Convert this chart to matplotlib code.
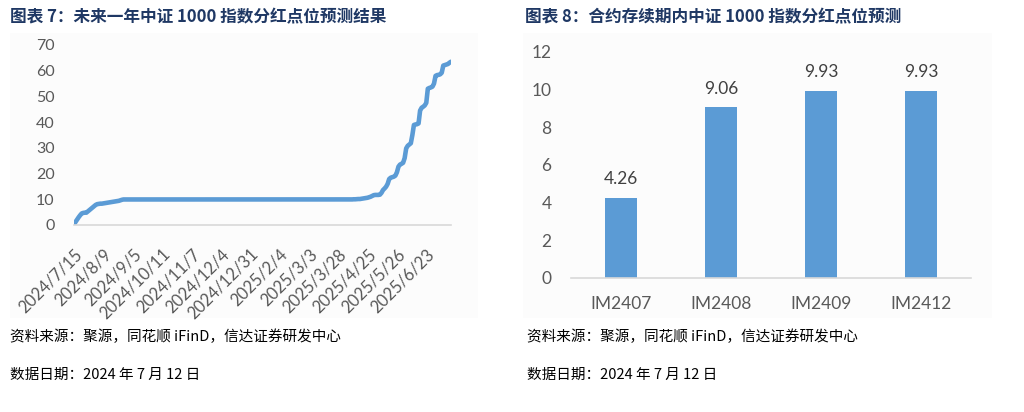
import matplotlib.pyplot as plt
from matplotlib.patches import Rectangle

plt.rcParams['font.family'] = ['Lato', 'Noto Sans CJK SC', 'DejaVu Sans']

# 图表7：未来一年中证1000指数分红点位（按交易日）
tick_labels = ["2024/7/15", "2024/8/9", "2024/9/5", "2024/10/11", "2024/11/7",
               "2024/12/4", "2024/12/31", "2025/2/4", "2025/3/3", "2025/3/28",
               "2025/4/25", "2025/5/26", "2025/6/23"]
tick_step = 19

rise_start = [0.3, 1.2, 2.1, 3.0, 3.8, 4.5, 4.7, 4.8, 4.8, 5.3,
              5.8, 6.3, 6.8, 7.3, 7.8, 8.1, 8.2, 8.3, 8.3, 8.4,
              8.5, 8.6, 8.7, 8.8, 8.9, 9.0, 9.1, 9.2, 9.3, 9.4,
              9.6, 9.8, 9.93]
flat_part = [9.93] * 147
rise_end = [9.95, 10.0, 10.0, 10.05, 10.1, 10.1, 10.2, 10.3, 10.4, 10.5,
            10.6, 10.8, 11.0, 11.3, 11.6, 11.7, 11.7, 11.7, 11.8, 12.5,
            13.6, 14.2, 14.9, 16.0, 17.9, 18.4, 18.6, 18.8, 19.2, 20.5,
            22.7, 23.5, 23.8, 24.2, 26.0, 29.8, 30.8, 31.3, 31.8, 35.0,
            38.9, 39.1, 39.2, 39.5, 44.5, 45.6, 46.0, 46.5, 47.5, 53.0,
            53.3, 53.5, 53.8, 55.0, 58.0, 58.3, 58.4, 58.6, 59.2, 62.0,
            62.2, 62.4, 62.6, 63.1, 63.5]
points = rise_start + flat_part + rise_end

# 图表8：合约存续期内分红点位预测
contracts = ["IM2407", "IM2408", "IM2409", "IM2412"]
contract_pts = [4.26, 9.06, 9.93, 9.93]

blue = "#5b9bd5"
grey_txt = "#595959"
navy = "#1f3864"

fig = plt.figure(figsize=(10.24, 4.12), dpi=100)

# 浅色底板
for x0, w in [(10, 468), (523, 469)]:
    fig.patches.append(Rectangle((x0 / 1024, (412 - 318) / 412), w / 1024, 285 / 412,
                                 transform=fig.transFigure, facecolor="#fcfcfc",
                                 edgecolor="none", zorder=-5))

# 左图
ax1 = fig.add_axes([74 / 1024, (412 - 225) / 412, 377 / 1024, 180 / 412])
ax1.set_zorder(2)
ax1.patch.set_alpha(0)
ax1.plot(range(len(points)), points, color=blue, lw=3.3, solid_capstyle="round")
ax1.set_xlim(0, len(points) - 1)
ax1.set_ylim(0, 70)
ax1.set_yticks(range(0, 71, 10))
ax1.set_xticks([i * tick_step for i in range(len(tick_labels))])
ax1.set_xticklabels(tick_labels, rotation=45, ha="right", va="top",
                    rotation_mode="anchor")
ax1.tick_params(axis="x", length=0, pad=15, labelsize=12, labelcolor=grey_txt)
ax1.tick_params(axis="y", length=0, pad=14, labelsize=11.5, labelcolor=grey_txt)
for s in ["top", "right", "left"]:
    ax1.spines[s].set_visible(False)
ax1.spines["bottom"].set_color("#d9d9d9")
ax1.spines["bottom"].set_linewidth(1.2)

# 右图
ax2 = fig.add_axes([571 / 1024, (412 - 278) / 412, 400 / 1024, 226.3 / 412])
ax2.set_zorder(2)
ax2.patch.set_alpha(0)
bars = ax2.bar(range(len(contracts)), contract_pts, width=0.32, color=blue)
for b, v in zip(bars, contract_pts):
    ax2.text(b.get_x() + b.get_width() / 2, v + 0.55, f"{v:.2f}", ha="center",
             va="bottom", fontsize=12.5, color="#404040")
ax2.set_xlim(-0.5, len(contracts) - 0.5)
ax2.set_ylim(0, 12)
ax2.set_yticks(range(0, 13, 2))
ax2.set_xticks(range(len(contracts)))
ax2.set_xticklabels(contracts)
ax2.tick_params(axis="x", length=0, pad=13, labelsize=12.5, labelcolor=grey_txt)
ax2.tick_params(axis="y", length=0, pad=14, labelsize=12.5, labelcolor=grey_txt)
for s in ["top", "right", "left"]:
    ax2.spines[s].set_visible(False)
ax2.spines["bottom"].set_color("#d9d9d9")
ax2.spines["bottom"].set_linewidth(1.2)

# 标题与注释
title_font = ["Noto Sans CJK SC", "DejaVu Sans"]
fig.text(10 / 1024, 1 - 17 / 412, "图表 7：未来一年中证 1000 指数分红点位预测结果",
         fontsize=12, fontweight="bold", color=navy, va="center", family=title_font)
fig.text(525 / 1024, 1 - 17 / 412, "图表 8：合约存续期内中证 1000 指数分红点位预测",
         fontsize=12, fontweight="bold", color=navy, va="center", family=title_font)
for x0 in [10, 527]:
    fig.text(x0 / 1024, 1 - 337 / 412, "资料来源：聚源，同花顺 iFinD，信达证券研发中心",
             fontsize=10.5, color="black", va="center", family=title_font)
    fig.text(x0 / 1024, 1 - 375 / 412, "数据日期：2024 年 7 月 12 日",
             fontsize=10.5, color="black", va="center", family=title_font)

fig.savefig("out.png", dpi=100)
